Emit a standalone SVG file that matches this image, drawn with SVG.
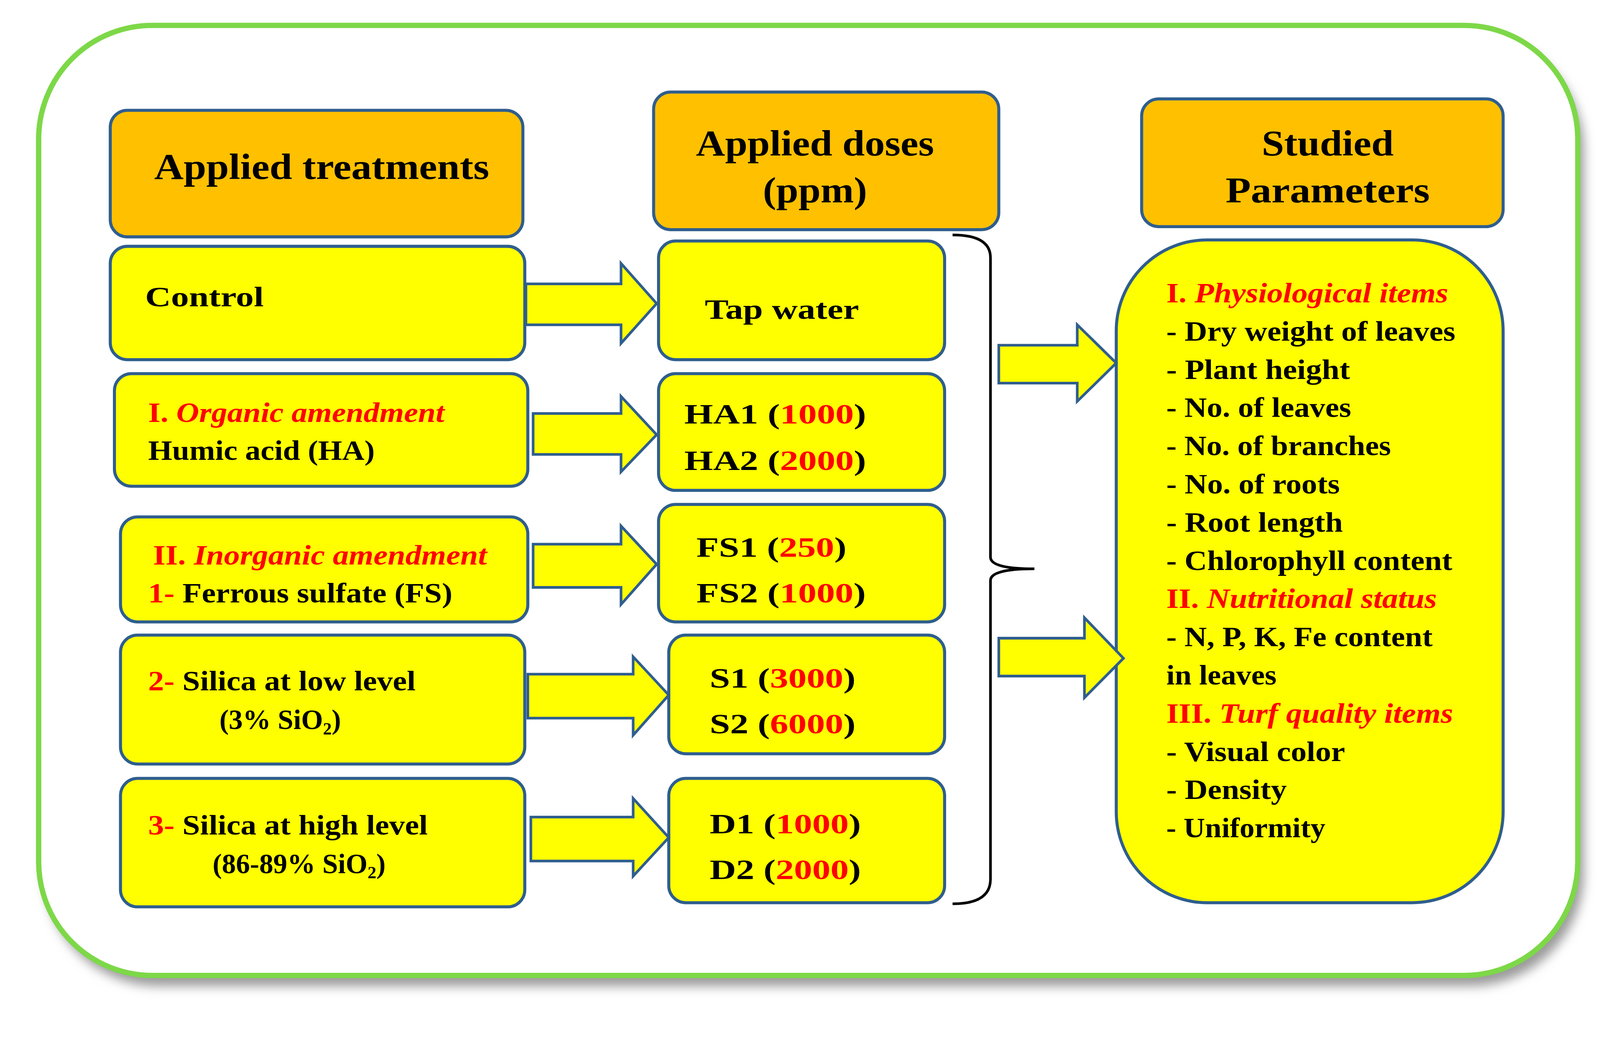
<svg xmlns="http://www.w3.org/2000/svg" width="4204" height="2662" viewBox="0 0 4204 2662">
<style>
.hd{fill:#FFC000;stroke:#2F5E8E;stroke-width:8}
.bx{fill:#FFFF00;stroke:#2F5E8E;stroke-width:8}
.ar{fill:#FFFF00;stroke:#2F5E8E;stroke-width:7;stroke-linejoin:miter}
text{font-family:"Liberation Serif","Times New Roman",serif;font-weight:bold;fill:#000}
.h{font-size:96px}
.t{font-size:74px}
.r{fill:#FF0000}
.i{font-style:italic;fill:#FF0000}
.s{font-size:46px}
</style>
<defs>
<filter id="sh" x="-5%" y="-5%" width="110%" height="112%"><feGaussianBlur stdDeviation="14"/></filter>
</defs>
<rect x="0" y="0" width="4204" height="2662" fill="#fff"/>
<g transform="scale(0.97)">
<rect x="118" y="95" width="4062" height="2507" rx="300" fill="#9a9a9a" filter="url(#sh)"/>
<rect x="102" y="67" width="4062" height="2507" rx="300" fill="#fff" stroke="#7DD848" stroke-width="14"/>

<g id="h1"><rect class="hd" x="291" y="291" width="1089" height="334" rx="45"/><text class="h" x="849" y="472" text-anchor="middle" textLength="884" lengthAdjust="spacingAndGlyphs">Applied treatments</text></g>
<g id="h2"><rect class="hd" x="1725" y="243" width="911" height="363" rx="45"/><text class="h" x="2151" y="410" text-anchor="middle" textLength="628" lengthAdjust="spacingAndGlyphs">Applied doses</text><text class="h" x="2151" y="534" text-anchor="middle" textLength="275" lengthAdjust="spacingAndGlyphs">(ppm)</text></g>
<g id="h3"><rect class="hd" x="3013" y="261" width="954" height="337" rx="45"/><text class="h" x="3504" y="410" text-anchor="middle" textLength="348" lengthAdjust="spacingAndGlyphs">Studied</text><text class="h" x="3504" y="534" text-anchor="middle" textLength="539" lengthAdjust="spacingAndGlyphs">Parameters</text></g>

<g id="control"><rect class="bx" x="291" y="650" width="1094" height="299" rx="45"/><text class="t" x="383" y="808" textLength="313" lengthAdjust="spacingAndGlyphs">Control</text></g>
<g id="organic"><rect class="bx" x="302" y="986" width="1091" height="297" rx="45"/><text class="t" x="391" y="1113" textLength="782" lengthAdjust="spacingAndGlyphs"><tspan class="r">I. </tspan><tspan class="i">Organic amendment</tspan></text><text class="t" x="391" y="1213" textLength="598" lengthAdjust="spacingAndGlyphs">Humic  acid  (HA)</text></g>
<g id="inorganic"><rect class="bx" x="318" y="1364" width="1075" height="277" rx="45"/><text class="t" x="404" y="1490" textLength="881" lengthAdjust="spacingAndGlyphs"><tspan class="r">II. </tspan><tspan class="i">Inorganic amendment</tspan></text><text class="t" x="391" y="1590" textLength="803" lengthAdjust="spacingAndGlyphs"><tspan class="r">1- </tspan>Ferrous  sulfate  (FS)</text></g>
<g id="silicalow"><rect class="bx" x="318" y="1676" width="1067" height="340" rx="45"/><text class="t" x="391" y="1822" textLength="706" lengthAdjust="spacingAndGlyphs"><tspan class="r">2- </tspan>Silica at  low  level</text><text class="t" x="579" y="1924">(3% SiO<tspan class="s" dy="14">2</tspan><tspan dy="-14">)</tspan></text></g>
<g id="silicahigh"><rect class="bx" x="318" y="2054" width="1067" height="339" rx="45"/><text class="t" x="391" y="2202" textLength="738" lengthAdjust="spacingAndGlyphs"><tspan class="r">3- </tspan>Silica at  high  level</text><text class="t" x="561" y="2304">(86-89% SiO<tspan class="s" dy="14">2</tspan><tspan dy="-14">)</tspan></text></g>

<g id="tap"><rect class="bx" x="1738" y="636" width="755" height="313" rx="45"/><text class="t" x="1860" y="841" textLength="407" lengthAdjust="spacingAndGlyphs">Tap  water</text></g>
<g id="ha"><rect class="bx" x="1738" y="986" width="755" height="308" rx="45"/><text class="t" x="1806" y="1118" textLength="480" lengthAdjust="spacingAndGlyphs">HA1 (<tspan class="r">1000</tspan>)</text><text class="t" x="1806" y="1240" textLength="480" lengthAdjust="spacingAndGlyphs">HA2 (<tspan class="r">2000</tspan>)</text></g>
<g id="fs"><rect class="bx" x="1738" y="1331" width="755" height="310" rx="45"/><text class="t" x="1838" y="1469" textLength="396" lengthAdjust="spacingAndGlyphs">FS1 (<tspan class="r">250</tspan>)</text><text class="t" x="1838" y="1590" textLength="447" lengthAdjust="spacingAndGlyphs">FS2 (<tspan class="r">1000</tspan>)</text></g>
<g id="s"><rect class="bx" x="1765" y="1676" width="728" height="313" rx="45"/><text class="t" x="1873" y="1814" textLength="385" lengthAdjust="spacingAndGlyphs">S1 (<tspan class="r">3000</tspan>)</text><text class="t" x="1873" y="1935" textLength="385" lengthAdjust="spacingAndGlyphs">S2 (<tspan class="r">6000</tspan>)</text></g>
<g id="d"><rect class="bx" x="1765" y="2054" width="728" height="328" rx="45"/><text class="t" x="1873" y="2199" textLength="399" lengthAdjust="spacingAndGlyphs">D1 (<tspan class="r">1000</tspan>)</text><text class="t" x="1873" y="2320" textLength="399" lengthAdjust="spacingAndGlyphs">D2 (<tspan class="r">2000</tspan>)</text></g>

<g id="params"><rect class="bx" x="2946" y="633" width="1021" height="1749" rx="240"/>
<text class="t" x="3078" y="798" textLength="744" lengthAdjust="spacingAndGlyphs"><tspan class="r">I. </tspan><tspan class="i">Physiological items</tspan></text>
<text class="t" x="3078" y="899" textLength="763" lengthAdjust="spacingAndGlyphs">- Dry weight  of  leaves</text>
<text class="t" x="3078" y="1000" textLength="485" lengthAdjust="spacingAndGlyphs">- Plant  height</text>
<text class="t" x="3078" y="1100" textLength="488" lengthAdjust="spacingAndGlyphs">- No.  of leaves</text>
<text class="t" x="3078" y="1201" textLength="593" lengthAdjust="spacingAndGlyphs">- No.  of branches</text>
<text class="t" x="3078" y="1302" textLength="458" lengthAdjust="spacingAndGlyphs">- No.  of roots</text>
<text class="t" x="3078" y="1403" textLength="466" lengthAdjust="spacingAndGlyphs">- Root  length</text>
<text class="t" x="3078" y="1504" textLength="755" lengthAdjust="spacingAndGlyphs">- Chlorophyll  content</text>
<text class="t" x="3078" y="1604" textLength="714" lengthAdjust="spacingAndGlyphs"><tspan class="r">II. </tspan><tspan class="i">Nutritional status</tspan></text>
<text class="t" x="3078" y="1705" textLength="703" lengthAdjust="spacingAndGlyphs">- N, P, K, Fe content</text>
<text class="t" x="3078" y="1806" textLength="291" lengthAdjust="spacingAndGlyphs">in leaves</text>
<text class="t" x="3078" y="1907" textLength="757" lengthAdjust="spacingAndGlyphs"><tspan class="r">III. </tspan><tspan class="i">Turf quality items</tspan></text>
<text class="t" x="3078" y="2008" textLength="472" lengthAdjust="spacingAndGlyphs">- Visual color</text>
<text class="t" x="3078" y="2108" textLength="318" lengthAdjust="spacingAndGlyphs">- Density</text>
<text class="t" x="3078" y="2209" textLength="420" lengthAdjust="spacingAndGlyphs">- Uniformity</text>
</g>

<g id="connectors">
<polygon class="ar" points="1388,749 1639,749 1639,695 1733,801 1639,906 1639,857 1388,857"/>
<polygon class="ar" points="1407,1091 1639,1091 1639,1046 1733,1147 1639,1245 1639,1199 1407,1199"/>
<polygon class="ar" points="1407,1436 1639,1436 1639,1388 1733,1489 1639,1595 1639,1550 1407,1550"/>
<polygon class="ar" points="1393,1779 1671,1779 1671,1733 1765,1834 1671,1940 1671,1895 1393,1895"/>
<polygon class="ar" points="1401,2156 1671,2156 1671,2107 1765,2210 1671,2312 1671,2272 1401,2272"/>
<polygon class="ar" points="2636,911 2843,911 2843,857 2946,958 2843,1059 2843,1011 2636,1011"/>
<polygon class="ar" points="2636,1684 2862,1684 2862,1630 2965,1737 2862,1841 2862,1784 2636,1784"/>
<path d="M2514,620 Q2614,620 2614,680 L2614,1470 Q2614,1501 2730,1501 Q2614,1501 2614,1532 L2614,2320 Q2614,2385 2514,2385" fill="none" stroke="#000" stroke-width="7"/>
</g>
</g>
</svg>
